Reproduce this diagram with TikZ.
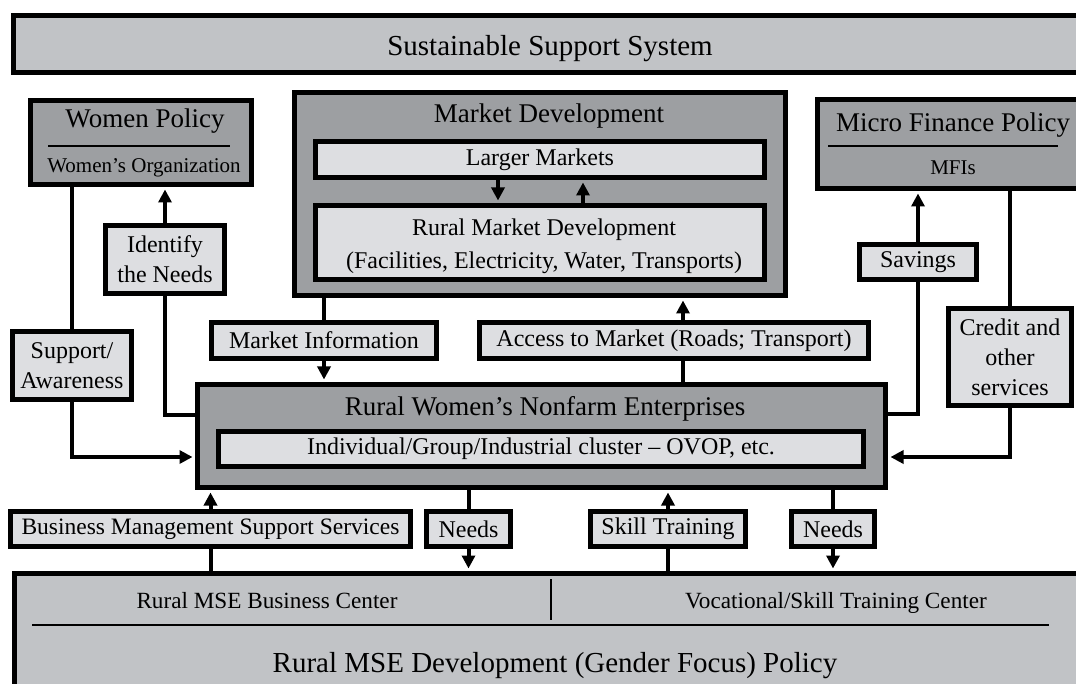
\documentclass[tikz,border=0pt]{standalone}
\usepackage{fontspec}
\setmainfont{Liberation Serif}
\usepackage{tikz}
\usetikzlibrary{calc, %for relative coord calculations
                arrows.meta, % for the filled heads
                positioning}

\definecolor{darkfill}{RGB}{157,159,162}
\definecolor{midfill}{RGB}{193,195,198}
\definecolor{lightfill}{RGB}{221,222,225}

\begin{document}
\begin{tikzpicture}[x=1pt, y=-1pt,
                    Box/.style={draw, line width=5pt, inner sep=0pt, align=center},
                    darkbox/.style={Box, fill=darkfill},
                    midbox/.style={Box, fill=midfill},
                    lightbox/.style={Box, fill=lightfill, font=\fontsize{24}{30}\selectfont},
                    bigtext/.style={font=\fontsize{27}{32}\selectfont, inner sep=0pt, anchor=base},
                    midtext/.style={font=\fontsize{23.2}{27}\selectfont, inner sep=0pt, anchor=base},
                    smalltext/.style={font=\fontsize{21}{25}\selectfont, inner sep=0pt, anchor=base},
                    link/.style={line width=4pt},
                    arrowlink/.style={line width=4pt, -{Triangle[length=13pt, width=13pt]}, shorten >=2.5pt},
                    divider/.style={line width=1.3pt}
                    ]

    \useasboundingbox (0,0) rectangle (1076,684);
    \clip (0,0) rectangle (1076,684);

    % TOP BAR %
    \node[midbox, minimum width=1074pt, minimum height=57pt] (sss) at (550.5,44) {};
    \node[bigtext, font=\fontsize{29}{34}\selectfont] (ssst) at (550,56) {Sustainable Support System};

    % WOMEN POLICY %
    \node[darkbox, minimum width=221pt, minimum height=84pt] (wp) at (141,142.5) {};
    \node[bigtext] (wpt) at (145,128) {Women Policy};
    \node[smalltext] (wpo) at (144,173) {Women's Organization};
    \draw[divider] (48,146) -- (230,146);

    % MARKET DEVELOPMENT %
    \node[darkbox, minimum width=491pt, minimum height=203pt] (md) at (540,194) {};
    \node[bigtext] (mdt) at (549,123) {Market Development};
    \node[lightbox, minimum width=449pt, minimum height=36pt] (lm) at (540,159.5) {Larger Markets};
    \node[lightbox, minimum width=449pt, minimum height=74pt] (rmd) at (540,242.5) {};
    \node[align=center, inner sep=0pt, font=\fontsize{24}{33}\selectfont] (rmdt) at (544,246) {Rural Market Development\\(Facilities, Electricity, Water, Transports)};
    \draw[arrowlink] ($(lm.south)+(-42,0)$) -- ($(rmd.north)+(-42,0)$);
    \draw[arrowlink] ($(rmd.north)+(43,0)$) -- ($(lm.south)+(43,0)$);

    % MICRO FINANCE %
    \node[darkbox, minimum width=270pt, minimum height=89pt] (mfp) at (952.5,144) {};
    \node[bigtext] (mfpt) at (953,132) {Micro Finance Policy};
    \node[smalltext] (mfi) at (953,175) {MFIs};
    \draw[divider] (828,146) -- (1058,146);

    % MIDDLE LABELS %
    \node[lightbox, minimum width=119pt, minimum height=68pt] (idn) at (165,259.5) {Identify\\the Needs};
    \node[lightbox, minimum width=119pt, minimum height=68pt] (sa) at (72,365.5) {Support/\\Awareness};
    \node[lightbox, minimum width=225pt, minimum height=36pt] (mi) at (324,340.5) {Market Information};
    \node[lightbox, minimum width=389pt, minimum height=36pt] (am) at (674,340.5) {Access to Market (Roads; Transport)};
    \node[lightbox, minimum width=117pt, minimum height=35pt] (sav) at (918,262) {Savings};
    \node[lightbox, minimum width=123pt, minimum height=97pt] (cred) at (1010,357) {Credit and\\other\\services};

    % ENTERPRISES %
    \node[darkbox, minimum width=688pt, minimum height=103pt] (rw) at (541.5,436) {};
    \node[bigtext] (rwt) at (545,415) {Rural Women's Nonfarm Enterprises};
    \node[lightbox, minimum width=645pt, minimum height=35pt] (ind) at (541,449) {Individual/Group/Industrial cluster -- OVOP, etc.};

    % BOTTOM LABELS %
    \node[lightbox, minimum width=400pt, minimum height=35pt, font=\fontsize{23.5}{30}\selectfont] (bmss) at (210.5,529) {Business Management Support Services};
    \node[lightbox, minimum width=84pt, minimum height=35pt] (nd1) at (468.5,529) {Needs};
    \node[lightbox, minimum width=155pt, minimum height=35pt] (st) at (668,529) {Skill Training};
    \node[lightbox, minimum width=83pt, minimum height=35pt] (nd2) at (833,529) {Needs};

    % POLICY BASE %
    \node[midbox, minimum width=1073pt, minimum height=124pt] (pol) at (551,635.5) {};
    \node[midtext] (bc) at (267,608) {Rural MSE Business Center};
    \node[midtext] (vc) at (836,608) {Vocational/Skill Training Center};
    \draw[divider] (551,579) -- (551,620);
    \draw[divider] (32,625) -- (1049,625);
    \node[bigtext, font=\fontsize{29}{34}\selectfont] (polt) at (555,672) {Rural MSE Development (Gender Focus) Policy};

    % LINKS LEFT %
    \draw[link] (wp.south -| sa.north) -- (sa.north);
    \draw[arrowlink] (sa.south) |- ($(rw.west)+(0,21)$);
    \draw[arrowlink] (idn.north) -- (idn.north |- wp.south);
    \draw[link] ($(rw.west)+(0,-21)$) -| (idn.south);

    % LINKS MARKET %
    \draw[link] (md.south -| mi.north) -- (mi.north);
    \draw[arrowlink] (mi.south) -- (mi.south |- rw.north);
    \draw[link] ($(rw.north -| am.south)+(9,0)$) -- ($(am.south)+(9,0)$);
    \draw[arrowlink] ($(am.north)+(9,0)$) -- ($(md.south -| am.north)+(9,0)$);

    % LINKS RIGHT %
    \draw[link] ($(rw.east)+(0,-22)$) -| (sav.south);
    \draw[arrowlink] (sav.north) -- (sav.north |- mfp.south);
    \draw[link] (mfp.south -| cred.north) -- (cred.north);
    \draw[arrowlink] (cred.south) |- ($(rw.east)+(0,21)$);

    % LINKS BOTTOM %
    \foreach \n in {bmss, st} {
        \draw[link] (pol.north -| \n.south) -- (\n.south);
        \draw[arrowlink] (\n.north) -- (\n.north |- rw.south);
    }
    \foreach \n in {nd1, nd2} {
        \draw[link] (rw.south -| \n.north) -- (\n.north);
        \draw[arrowlink] (\n.south) -- (\n.south |- pol.north);
    }
\end{tikzpicture}
\end{document}
